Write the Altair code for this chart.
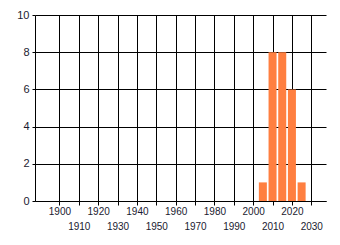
import altair as alt
import pandas as pd

years = [2005, 2010, 2015, 2020, 2025]
counts = [1, 8, 8, 6, 1]
x_ticks = list(range(1900, 2031, 10))
y_ticks = [0, 2, 4, 6, 8, 10]

df = pd.DataFrame({"year": years, "count": counts})

text_color = "#1a1a30"

bars = alt.Chart(df).mark_bar(color="#FF7F40", size=8).encode(
    x=alt.X("year:Q",
            scale=alt.Scale(domain=[1890, 2035], nice=False, zero=False),
            axis=alt.Axis(values=x_ticks, title=None, grid=True, gridColor="black",
                          gridOpacity=1, gridWidth=1, domainColor="black", domainWidth=1,
                          tickColor="black", tickSize=4, labelPadding=1,
                          labelFont="Liberation Sans", labelFontSize=10, labelColor=text_color,
                          labelOverlap=False, labelFlush=False, labelLineHeight=15,
                          labelBaseline="top",
                          labelExpr="(datum.value / 10) % 2 == 0 ? [datum.label] : ['', datum.label]",
                          format="d")),
    y=alt.Y("count:Q",
            scale=alt.Scale(domain=[0, 10], nice=False),
            axis=alt.Axis(values=y_ticks, title=None, grid=True, gridColor="black",
                          gridOpacity=1, gridWidth=1, domainColor="black", domainWidth=1,
                          tickColor="black", tickSize=3, labelPadding=3,
                          labelFont="Liberation Sans", labelFontSize=11, labelColor=text_color)),
)

chart = bars.properties(
    width=291, height=186,
    autosize=alt.AutoSizeParams(type="none"),
    padding={"left": 35, "top": 15, "right": 14, "bottom": 44},
    background="white",
).configure_view(stroke=None)

chart.save("out.html", embed_options={"renderer": "svg", "actions": False})
